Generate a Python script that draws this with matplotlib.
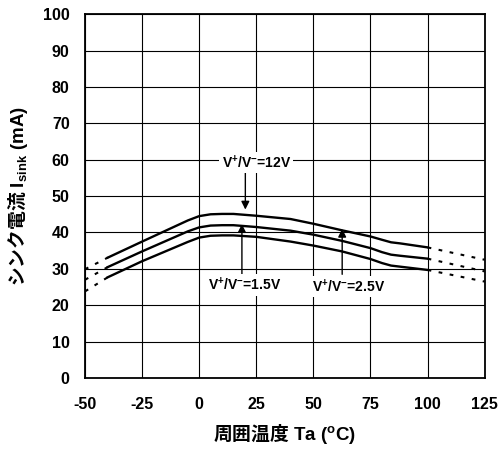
import matplotlib
matplotlib.use('Agg')
import matplotlib.pyplot as plt

plt.rcParams['font.family'] = ['Liberation Sans', 'Noto Sans CJK JP', 'DejaVu Sans']
plt.rcParams['font.weight'] = 'bold'
plt.rcParams['axes.labelweight'] = 'bold'
plt.rcParams['axes.unicode_minus'] = False
plt.rcParams['mathtext.fontset'] = 'custom'
plt.rcParams['mathtext.rm'] = 'Liberation Sans:bold'
plt.rcParams['mathtext.bf'] = 'Liberation Sans:bold'
plt.rcParams['mathtext.it'] = 'Liberation Sans:bold'
# CJK glyphs go through \mathsf so they can sit in the same label as the super/subscripts
plt.rcParams['mathtext.sf'] = 'Noto Sans CJK JP:bold'

# measured range (solid)
temp = [-40, -25, -5, 0, 5, 10, 15, 25, 40, 50, 62.5, 75, 80, 84, 88, 100]
i_12v = [33.1, 37.5, 43.3, 44.5, 45.0, 45.1, 45.1, 44.6, 43.7, 42.4, 40.6, 38.9, 38.0, 37.3, 37.0, 35.9]
i_2v5 = [30.5, 34.8, 40.3, 41.4, 41.9, 42.0, 42.0, 41.5, 40.5, 39.4, 37.7, 35.7, 34.6, 33.9, 33.6, 32.8]
i_1v5 = [27.7, 32.1, 37.4, 38.6, 39.1, 39.2, 39.2, 38.8, 37.5, 36.4, 34.8, 32.7, 31.6, 30.9, 30.6, 29.7]

# extrapolated ends (dotted)
temp_lo = [-50, -40]
temp_hi = [100, 125]
ext_12v = ([29.9, 33.1], [35.9, 32.5])
ext_2v5 = ([27.0, 30.5], [32.8, 29.3])
ext_1v5 = ([23.8, 27.7], [29.7, 26.5])

xticks = [-50, -25, 0, 25, 50, 75, 100, 125]
yticks = list(range(0, 101, 10))

fig = plt.figure(figsize=(5.03, 4.53), dpi=100)
ax = fig.add_axes([0.169, 0.1656, 0.7946, 0.803])

dots = (0, (1.8, 3.6))
for y, (lo, hi) in [(i_12v, ext_12v), (i_2v5, ext_2v5), (i_1v5, ext_1v5)]:
    ax.plot(temp, y, color='black', lw=1.7, zorder=3, solid_joinstyle='round')
    ax.plot(temp_lo, lo, color='black', lw=1.5, ls=dots, zorder=3)
    ax.plot(temp_hi, hi, color='black', lw=1.5, ls=dots, zorder=3)

ax.set_xlim(-50, 125)
ax.set_ylim(0, 100)
ax.set_xticks(xticks)
ax.set_yticks(yticks)
ax.grid(True, color='black', lw=0.8)
ax.tick_params(length=0, labelsize=11.5)
ax.tick_params(axis='x', pad=14)
ax.tick_params(axis='y', pad=11)
for s in ax.spines.values():
    s.set_linewidth(1.3)

box = dict(facecolor='white', edgecolor='none', pad=1.5)
arr = dict(arrowstyle='-|>', color='black', lw=1, mutation_scale=12, shrinkA=0, shrinkB=0)
ax.annotate('', xy=(20.2, 46.3), xytext=(20.2, 56.6), arrowprops=arr, zorder=4)
ax.text(25, 59.3, r'V$^{+}$/V$^{-}$=12V', ha='center', va='center', fontsize=10, bbox=box, zorder=5)
ax.annotate('', xy=(18.7, 42.3), xytext=(18.7, 28.5), arrowprops=arr, zorder=4)
ax.text(20, 25.6, r'V$^{+}$/V$^{-}$=1.5V', ha='center', va='center', fontsize=10, bbox=box, zorder=5)
ax.annotate('', xy=(62.6, 41.0), xytext=(62.6, 28.5), arrowprops=arr, zorder=4)
ax.text(65.3, 25.2, r'V$^{+}$/V$^{-}$=2.5V', ha='center', va='center', fontsize=10, bbox=box, zorder=5)

ax.set_xlabel(r'$\mathsf{周囲温度}$ Ta ($^{\mathrm{o}}$C)', fontsize=13.5, labelpad=7)
ax.set_ylabel(r'$\mathsf{シンク電流}$ I$_{\mathrm{sink}}$ (mA)', fontsize=13.5, labelpad=9)

fig.savefig('out.png', dpi=100)
